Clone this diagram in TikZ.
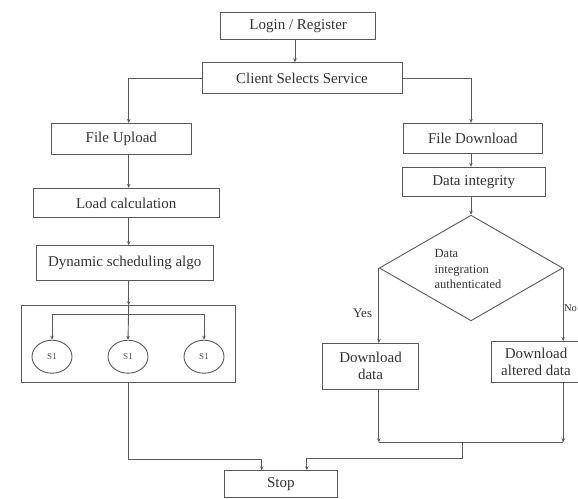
\documentclass[tikz,border=0pt]{standalone}
\usepackage{fontspec}
\setmainfont{Liberation Serif}
\usetikzlibrary{shapes.geometric,arrows.meta}

\begin{document}
\begin{tikzpicture}[x=1pt, y=-1pt,
    line/.style={draw=black!65, line width=0.9pt},
    >={Stealth[length=4pt,width=3.5pt]},
    box/.style={line, rectangle, inner sep=0pt, text=black!80, font=\fontsize{15}{17}\selectfont},
    disc/.style={line, ellipse, minimum width=40, minimum height=33, inner sep=0pt, text=black!70, font=\fontsize{9}{10}\selectfont},
    label/.style={text=black!80, font=\fontsize{13}{15}\selectfont}]
  \useasboundingbox (0,0) rectangle (578,498);
  % top
  \node[box, minimum width=155, minimum height=26.6] (login) at (298.2,26) {Login / Register};
  \node[box, minimum width=200, minimum height=30.6] (client) at (302,78) {Client Selects Service};
  % upload side
  \node[box, minimum width=139.3, minimum height=30.7] (upload) at (121.3,138.7) {File Upload};
  \node[box, minimum width=185.7, minimum height=29.4] (load) at (126.2,203) {Load calculation};
  \node[box, minimum width=177.3, minimum height=34.3] (sched) at (124.7,262.8) {Dynamic scheduling algo};
  \node[box, minimum width=214, minimum height=77] (pool) at (128.7,344.2) {};
  \node[disc] (s1) at (52,356.7) {S1};
  \node[disc] (s2) at (128,356.7) {S1};
  \node[disc] (s3) at (204,356.7) {S1};
  \coordinate (bar) at (128,314.3);
  % download side
  \node[box, minimum width=139, minimum height=30] (download) at (472.8,138.3) {File Download};
  \node[box, minimum width=142.7, minimum height=29.4] (integrity) at (473.7,182) {Data integrity};
  \node[line, diamond, minimum width=183.4, minimum height=105.7, inner sep=0pt] (check) at (471,268) {};
  \node[label, align=left, font=\fontsize{12.5}{15.5}\selectfont] (checktext) at (468,269) {Data\\integration\\authenticated};
  \node[box, align=center, minimum width=95.6, minimum height=45.7] (dldata) at (370.5,366.2) {Download\\data};
  \node[box, align=center, minimum width=89, minimum height=41] (dlalt) at (536,362) {Download\\altered data};
  \node[box, minimum width=113.7, minimum height=27] (stop) at (280.8,484.2) {Stop};
  \coordinate (mergeL) at (261.7,459.3);
  \coordinate (mergeR) at (462.3,442.3);

  \draw[line, ->] (login.south -| 295,0) -- (client.north -| 295,0);
  \draw[line, ->] (client.west) -| (upload.north -| pool.north);
  \draw[line, ->] (upload.south -| pool.north) -- (load.north -| pool.north);
  \draw[line, ->] (load.south -| pool.north) -- (sched.north -| pool.north);
  \draw[line, ->] (sched.south -| pool.north) -- (pool.north);
  \draw[line, ->] (pool.north) -- (s2.north);
  \draw[line, ->] (bar) -| (s1.north);
  \draw[line, ->] (bar) -| (s3.north);
  \draw[line, ->] (pool.south) |- (mergeL) -- (mergeL |- stop.north);

  \draw[line, ->] (client.east) -| (download.north -| check.north);
  \draw[line, ->] (download.south -| check.north) -- (integrity.north -| check.north);
  \draw[line, ->] (integrity.south -| check.north) -- (check.north);
  \draw[line, ->] (check.west) -- (check.west |- dldata.north) node[label, pos=0.6, left=3pt] (yes) {Yes};
  \draw[line, ->] (check.east) -- (check.east |- dlalt.north) node[label, pos=0.55, right=0.5pt, inner sep=0pt, font=\fontsize{10.5}{12}\selectfont] (no) {No};
  \draw[line, ->] (check.west |- dldata.south) -- (check.west |- mergeR);
  \draw[line, ->] (check.east |- dlalt.south) -- (check.east |- mergeR);
  \draw[line] (check.west |- mergeR) -- (check.east |- mergeR);
  \draw[line, ->] (mergeR) -- ++(0,16) -| ([xshift=26]stop.north);
\end{tikzpicture}
\end{document}
